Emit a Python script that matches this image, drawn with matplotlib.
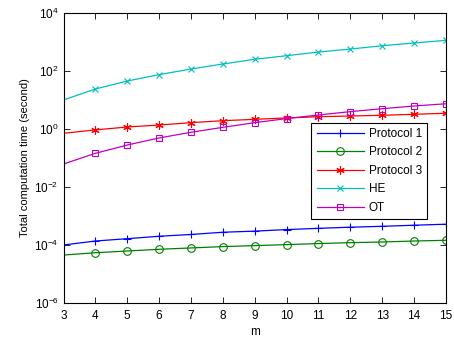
import matplotlib
matplotlib.use("Agg")
import matplotlib.pyplot as plt
import numpy as np
from matplotlib.ticker import NullLocator

plt.rcParams['font.family'] = ['Liberation Sans', 'DejaVu Sans']
plt.rcParams['font.size'] = 8.5

# values
m = [3, 4, 5, 6, 7, 8, 9, 10, 11, 12, 13, 14, 15]
protocol1 = [1.0e-4, 1.37e-4, 1.65e-4, 2.0e-4, 2.3e-4, 2.75e-4, 3.0e-4, 3.4e-4, 3.75e-4, 4.1e-4, 4.4e-4, 4.8e-4, 5.2e-4]
protocol2 = [4.5e-5, 5.4e-5, 6.2e-5, 7.1e-5, 7.9e-5, 8.8e-5, 9.5e-5, 1.03e-4, 1.12e-4, 1.2e-4, 1.27e-4, 1.37e-4, 1.45e-4]
protocol3 = [0.71, 0.93, 1.17, 1.37, 1.65, 1.93, 2.15, 2.4, 2.65, 2.8, 2.97, 3.2, 3.5]
he = [10, 24, 45, 75, 117, 174, 253, 336, 450, 570, 740, 925, 1140]
ot = [0.062, 0.145, 0.28, 0.49, 0.77, 1.14, 1.65, 2.28, 3.04, 3.96, 5.0, 6.2, 7.4]
yticks = [1e-6, 1e-4, 1e-2, 1e0, 1e2, 1e4]

asterisk = (6, 2, 0)
series = [
    ("Protocol 1", protocol1, (0, 0, 1), '+', 6),
    ("Protocol 2", protocol2, (0, 0.5, 0), 'o', 5.5),
    ("Protocol 3", protocol3, (1, 0, 0), asterisk, 6),
    ("HE", he, (0, 0.75, 0.75), 'x', 5),
    ("OT", ot, (0.75, 0, 0.75), 's', 5),
]

fig = plt.figure(figsize=(4.54, 3.38), dpi=100)
ax = fig.add_axes([0.140, 0.1036, 0.842, 0.858])

for name, vals, col, mk, ms in series:
    ax.semilogy(m, vals, color=col, marker=mk, markevery=list(range(1, len(m))),
                markersize=ms, markerfacecolor='none', markeredgecolor=col,
                markeredgewidth=0.8, linewidth=0.9, label=name)

ax.set_xlim(3, 15)
ax.set_ylim(1e-6, 1e4)
ax.set_xticks(range(3, 16))
ax.set_yticks(yticks)
ax.yaxis.set_minor_locator(NullLocator())
ax.tick_params(direction='in', top=True, right=True, length=4, width=0.6, labelsize=8.5)
ax.tick_params(axis='x', pad=5)
for s in ax.spines.values():
    s.set_linewidth(0.8)

ax.set_xlabel("m", labelpad=3)
ax.set_ylabel("Total computation time (second)", labelpad=3, fontsize=8)

leg = ax.legend(loc='upper left', bbox_to_anchor=(0.648, 0.622), numpoints=1,
                handlelength=4.0, fancybox=False, framealpha=1, edgecolor='black',
                borderpad=0.45, labelspacing=0.55, handletextpad=0.4, fontsize=8.5,
                borderaxespad=0)
leg.get_frame().set_linewidth(0.8)

fig.savefig("out.png", dpi=100)
